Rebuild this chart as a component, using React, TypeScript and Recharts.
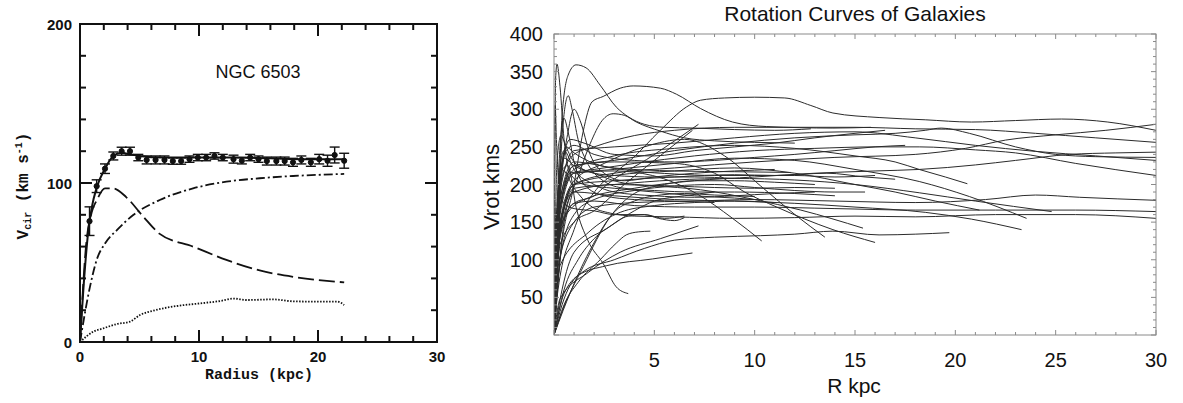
import React from "react";
import { LineChart, Line, XAxis, YAxis, ErrorBar } from "recharts";

type Pt = [number, number];

// ---------- left panel: NGC 6503 ----------
const obsRadius = [0.8, 1.4, 2.1, 2.8, 3.5, 4.2, 4.9, 5.6, 6.35, 7.1, 7.8, 8.5, 9.2, 9.9, 10.6, 11.3, 12.0, 12.9, 13.6, 14.3, 15.0, 15.7, 16.5, 17.2, 17.9, 18.6, 19.4, 20.1, 20.8, 21.4, 22.2];
const obsVel = [76, 98, 109, 117, 120, 120, 116, 114.5, 114.5, 114.5, 113.8, 113.8, 115, 116, 116, 117, 116, 115, 114, 116, 115, 113.8, 113.8, 113.8, 113, 114.5, 113, 115, 114, 117.6, 114];
const obsErr = [9, 4, 3, 2.5, 2.5, 2.5, 2, 2.5, 2.5, 2.5, 2, 2, 2, 2, 2, 2, 2, 2.5, 2, 2, 2, 2.5, 2.5, 2.5, 2.5, 2.5, 2.5, 3, 3.5, 5, 4.7];

const fitCurve: Pt[] = [[0, 0], [0.4, 45], [0.7, 70], [1.0, 85], [1.4, 97], [2.1, 109], [2.8, 117], [3.5, 119], [4.2, 118], [5, 117], [7, 116], [10, 116], [13, 116], [16, 115.5], [19, 115], [22.2, 115]];
const diskCurve: Pt[] = [[0, 0], [0.5, 60], [1, 82], [1.4, 89], [2.1, 96.6], [2.8, 96.6], [3.9, 91], [5.3, 79], [6.7, 68], [9.5, 60], [12.3, 51.6], [15.1, 45], [17.9, 41], [22.2, 37.5]];
const haloCurve: Pt[] = [[0, 0], [0.84, 34.8], [1.4, 51.6], [2.1, 62], [3.1, 70.4], [4.5, 80], [6.7, 89.3], [9.5, 96.6], [12.3, 100.8], [15.1, 103], [17.9, 104.4], [22.2, 105.7]];
const gasCurve: Pt[] = [[0, 0], [1.12, 6.5], [1.96, 8.6], [3.08, 11.3], [4.2, 12.8], [5.04, 17], [6.16, 19.7], [8.1, 22.6], [10.1, 24.3], [11.8, 25.8], [12.9, 27.3], [14, 26.4], [16.2, 26.8], [17.9, 25.6], [19.6, 25.4], [21.6, 25.4], [22.2, 23.3]];

const leftXTicks = [0, 2, 4, 6, 8, 10, 12, 14, 16, 18, 20, 22, 24, 26, 28, 30];
const leftYTicks = [0, 20, 40, 60, 80, 100, 120, 140, 160, 180, 200];
const leftXLabels = [0, 10, 20, 30];
const leftYLabels = [0, 100, 200];

// ---------- right panel: rotation curves ----------
const rc01: Pt[] = [[0, 0], [0.2, 60], [1, 140], [2.1, 193], [3, 215], [3.8, 232], [5.3, 272], [6.6, 303], [7.3, 312], [8.5, 315], [10, 316], [11.5, 315], [12.8, 305], [13.9, 295], [16.2, 289], [18.5, 286], [20.8, 283], [23, 285], [25.3, 287], [27.6, 283], [30, 272]];
const rc02: Pt[] = [[0, 0], [0.3, 140], [1, 200], [3, 215], [6, 222], [10, 230], [14, 236], [18, 240], [20.5, 248], [22.5, 259], [25, 266], [27.5, 272], [30, 280]];
const rc03: Pt[] = [[0, 0], [0.3, 200], [1, 240], [2, 250], [4, 265], [6, 272], [9, 276], [12, 276], [15, 276], [18, 274], [21, 273], [24, 268], [27, 262], [30, 256]];
const rc04: Pt[] = [[0, 0], [0.4, 150], [1.5, 180], [4, 195], [7, 205], [10, 210], [13, 215], [16, 218], [18.2, 220], [21, 226], [23, 232], [25.7, 240], [28, 242], [30, 243]];
const rc05: Pt[] = [[0, 0], [0.3, 180], [1, 225], [3, 232], [6, 245], [9, 255], [12, 262], [15, 266], [17, 268], [18.5, 272], [19.3, 275], [20.7, 268], [23, 250], [25, 240], [27, 237], [30, 236]];
const rc06: Pt[] = [[0, 0], [0.3, 190], [1, 245], [3, 250], [6, 255], [9, 262], [12, 268], [15, 270], [18, 262], [21, 252], [24, 244], [27, 238], [30, 232]];
const rc07: Pt[] = [[0, 0], [0.2, 140], [0.8, 215], [2, 220], [4, 228], [7, 238], [10, 245], [13, 248], [16, 250], [18.2, 250], [21, 246], [23, 242], [26, 228], [30, 212]];
const rc08: Pt[] = [[0, 0], [0.2, 90], [1, 150], [2, 170], [4, 176], [7, 178], [10, 180], [14, 178], [18, 176], [21.5, 180], [24, 186], [26.2, 183], [30, 179]];
const rc09: Pt[] = [[0, 0], [0.3, 130], [1, 175], [2, 178], [4, 172], [7, 170], [10, 170], [14, 168], [18, 166], [22, 166], [26, 166], [30, 164]];
const rc10: Pt[] = [[0, 0], [0.1, 150], [0.4, 220], [1, 195], [1.8, 172], [2.8, 162], [4, 158], [6, 157], [9, 155], [12, 156], [15, 158], [18, 157], [22, 160], [26, 160], [30, 155]];
const rc11: Pt[] = [[0, 0], [0.3, 170], [1, 220], [3, 238], [6, 248], [9, 252], [12, 248], [15, 238], [17, 230], [18.2, 220], [19.5, 210], [20.6, 201]];
const rc12: Pt[] = [[0, 0], [0.3, 150], [1, 190], [3, 185], [6, 180], [9, 178], [12, 175], [15, 170], [18.5, 163], [20.8, 154], [23.3, 140]];
const rc13: Pt[] = [[0, 0], [0.3, 160], [1, 215], [3, 220], [6, 228], [9, 235], [12, 232], [15, 220], [18.2, 204], [20.7, 184], [23.55, 155]];
const rc14: Pt[] = [[0, 0], [0.3, 140], [1, 195], [3, 200], [6, 206], [9, 208], [12, 206], [15, 200], [18.2, 189], [21, 178], [24.8, 164]];
const rc15: Pt[] = [[0, 0], [0.2, 130], [1, 200], [3, 212], [6, 218], [9, 222], [12, 215], [15, 200], [17, 190], [19, 178], [21.2, 166]];
const rc16: Pt[] = [[0, 0], [0.5, 55], [1.5, 85], [3, 100], [4.5, 115], [6, 126], [8, 130], [10.3, 132], [12, 134], [13.9, 138], [16.2, 133], [18, 134], [19.7, 136]];
const rc17: Pt[] = [[0, 0], [0.3, 130], [1, 190], [3, 200], [5, 198], [7.3, 193], [10, 180], [12.3, 166], [15.4, 142]];
const rc18: Pt[] = [[0, 0], [0.3, 170], [1, 225], [3, 230], [6, 228], [8, 215], [9.5, 190], [11.1, 170], [13.9, 140], [16, 123]];
const rc19: Pt[] = [[0, 0], [0.3, 150], [1, 205], [2.5, 228], [4.5, 250], [6.5, 260], [8.5, 238], [10.3, 198], [12.1, 158], [13.5, 130]];
const rc20: Pt[] = [[0, 0], [0.3, 170], [1, 215], [3, 218], [4.9, 212], [7.1, 188], [8.9, 155], [10.35, 125]];
const rc21: Pt[] = [[0, 0], [0.3, 140], [1, 200], [3, 205], [6, 210], [9, 213], [11, 212], [13.6, 215], [15.5, 210], [17, 207]];
const rc22: Pt[] = [[0, 0], [0.3, 180], [1, 230], [3, 222], [6, 218], [9, 217], [11.8, 216]];
const rc23: Pt[] = [[0, 0], [0.3, 140], [1, 175], [2, 185], [2.6, 199], [4.9, 238], [7.2, 280]];
const rc24: Pt[] = [[0, 0], [0.3, 120], [1, 150], [2, 165], [3.5, 200], [5, 232], [6.9, 272]];
const rc25: Pt[] = [[0, 0], [0.15, 150], [0.4, 220], [0.7, 225], [1.1, 170], [1.7, 125], [2.45, 95], [3.1, 64], [3.7, 55]];
const rc26: Pt[] = [[0, 0], [0.5, 40], [1.2, 70], [2.3, 100], [3.1, 122], [3.6, 133], [4.2, 137], [4.8, 138]];
const rc27: Pt[] = [[0, 0], [0.4, 40], [1.2, 79], [2.6, 92], [4.9, 101], [6.9, 109]];
const rc28: Pt[] = [[0, 0], [0.3, 48], [1.7, 83], [3.3, 110], [5.3, 128], [7.2, 145]];
const rc29: Pt[] = [[0, 0], [0.08, 340], [0.15, 360], [0.3, 330], [0.5, 260], [0.8, 215], [1.5, 200], [3, 195], [5, 190], [7, 185], [9, 182], [10, 180]];
const rc30: Pt[] = [[0, 0], [0.2, 150], [0.4, 290], [0.7, 345], [1.1, 359], [1.6, 355], [2.3, 332], [3.1, 303], [3.7, 290], [4.5, 280], [5.5, 276], [7, 275], [9, 273], [11, 272], [12.8, 274]];
const rc31: Pt[] = [[0, 0], [0.3, 100], [1, 200], [1.45, 270], [1.9, 310], [2.45, 317], [3.3, 328], [3.95, 331], [5.3, 328], [6.1, 320], [7.3, 301], [8.9, 283], [10.6, 277], [13.9, 275], [15.8, 276]];
const rc32: Pt[] = [[0, 0], [0.2, 150], [0.45, 280], [0.71, 318], [0.9, 300], [1.2, 260], [1.6, 232], [2.45, 205], [3.5, 195], [5, 192], [7, 190], [9, 190], [12, 188], [14, 185]];
const rc33: Pt[] = [[0, 0], [0.3, 180], [0.7, 270], [1, 300], [1.3, 285], [1.8, 240], [2.5, 215], [3.5, 205], [5, 210], [7, 215], [9, 218], [11, 220]];
const rc34: Pt[] = [[0, 0], [0.5, 150], [1.2, 210], [1.8, 254], [2.4, 285], [2.95, 294], [3.5, 292], [4.1, 283], [5.3, 271], [6.5, 262], [8, 258], [10, 256], [12, 255]];
const rc35: Pt[] = [[0, 0], [0.1, 120], [0.3, 250], [0.5, 288], [0.7, 270], [1, 230], [1.5, 200], [2.5, 185], [4, 180], [6, 178], [8, 176]];
const rc36: Pt[] = [[0, 0], [0.03, 200], [0.06, 305], [0.12, 260], [0.25, 200], [0.5, 175], [1, 168], [2, 165], [3, 160], [4.5, 160], [5.5, 155], [6.5, 158]];
const rc37: Pt[] = [[0, 0], [0.3, 200], [0.6, 250], [1, 242], [2, 228], [4, 218], [6, 214], [8, 212], [10, 212], [12, 212], [14, 210], [16, 212]];
const rc38: Pt[] = [[0, 0], [0.2, 160], [0.5, 240], [1, 252], [2, 240], [4, 232], [6, 230], [8, 232], [10, 236], [12, 240], [14, 245], [16, 250], [17.5, 252]];
const rc39: Pt[] = [[0, 0], [0.3, 100], [1, 160], [2, 180], [4, 192], [6, 198], [8, 200], [10, 196], [12, 192], [14, 190], [15.5, 190]];
const rc40: Pt[] = [[0, 0], [0.3, 200], [0.8, 260], [1.5, 255], [3, 240], [5, 238], [7, 245], [9, 250], [11, 255], [13, 262], [15, 268], [16.5, 272]];
const rc41: Pt[] = [[0, 0], [0.3, 24], [1.46, 91], [2.8, 157], [4, 188], [5.5, 200], [7, 205], [9, 205], [11, 203], [13, 200]];
const rc42: Pt[] = [[0, 0], [0.46, 33], [1.8, 113], [3.1, 166], [4, 178], [5, 185], [6.5, 188], [8, 186], [10, 184]];
const rc43: Pt[] = [[0, 0], [0.4, 60], [1, 110], [2.6, 141], [3.7, 158], [4.5, 160], [5.2, 155], [6, 152], [6.5, 156]];
const rc44: Pt[] = [[0, 0], [0.3, 92], [1.7, 136], [3.3, 163], [5, 172], [7, 176], [9, 178], [11, 176]];
const rc45: Pt[] = [[0, 0], [0.2, 180], [0.5, 235], [1, 225], [2, 215], [3, 205], [4, 200], [6, 198], [8, 196], [10, 195], [12, 196], [14, 195]];
const rc46: Pt[] = [[0, 0], [0.15, 230], [0.35, 265], [0.6, 250], [1, 230], [2, 215], [3, 212], [5, 210], [7, 210], [9, 208]];
const rc47: Pt[] = [[0, 0], [0.5, 60], [1.2, 100], [2, 128], [3, 148], [4, 165], [5, 178], [6.5, 185], [8, 190]];
const rc48: Pt[] = [[0, 0], [0.25, 210], [0.5, 245], [1, 220], [2, 200], [3, 190], [5, 185], [7, 183], [9, 185], [11, 188], [13, 190]];

const galaxyCurves: Pt[][] = [
  rc01, rc02, rc03, rc04, rc05, rc06, rc07, rc08, rc09, rc10, rc11, rc12, rc13, rc14, rc15, rc16,
  rc17, rc18, rc19, rc20, rc21, rc22, rc23, rc24, rc25, rc26, rc27, rc28, rc29, rc30, rc31, rc32,
  rc33, rc34, rc35, rc36, rc37, rc38, rc39, rc40, rc41, rc42, rc43, rc44, rc45, rc46, rc47, rc48,
];

const rightXTicks = Array.from({ length: 31 }, (_, i) => i);
const rightYTicks = Array.from({ length: 41 }, (_, i) => i * 10);
const rightXLabels = [5, 10, 15, 20, 25, 30];
const rightYLabels = [50, 100, 150, 200, 250, 300, 350, 400];

const toRows = (pts: Pt[]) => pts.map(([r, v]) => ({ r, v }));

// plot boxes (page pixels) that follow from the chart margins below
const leftBox = { x0: 80, x1: 437, y0: 24, y1: 342 };
const rightBox = { x0: 554, x1: 1156, y0: 34, y1: 335 };

type LabelOpts = {
  side: "bottom" | "left";
  labels: number[];
  offset: number;
  fontFamily: string;
  fontSize: number;
  fontWeight: number;
};

// axis tick labels only; tick marks are drawn inward by the Frame below
const makeLabel = (o: LabelOpts) => (props: any) => {
  const { x, y, payload } = props;
  const val = payload.value;
  if (!o.labels.includes(val)) return <g />;
  const font = { fontFamily: o.fontFamily, fontSize: o.fontSize, fontWeight: o.fontWeight, fill: "#111" };
  if (o.side === "bottom")
    return (
      <text x={x} y={y + o.offset} textAnchor="middle" {...font}>
        {val}
      </text>
    );
  return (
    <text x={x - o.offset} y={y} textAnchor="end" dominantBaseline="central" {...font}>
      {val}
    </text>
  );
};

const leftFont = { fontFamily: "'Liberation Sans', Arial, sans-serif", fontSize: 15, fontWeight: 700 };
const rightFont = { fontFamily: "'Liberation Sans', Arial, sans-serif", fontSize: 20, fontWeight: 400 };
const leftXLabel = makeLabel({ side: "bottom", labels: leftXLabels, offset: 20, ...leftFont });
const leftYLabel = makeLabel({ side: "left", labels: leftYLabels, offset: 8, ...leftFont });
const rightXLabel = makeLabel({ side: "bottom", labels: rightXLabels, offset: 32, ...rightFont });
const rightYLabel = makeLabel({ side: "left", labels: rightYLabels, offset: 11, ...rightFont });

type FrameProps = {
  box: { x0: number; x1: number; y0: number; y1: number };
  xMax: number;
  yMax: number;
  xTicks: number[];
  yTicks: number[];
  xMajor: number;
  yMajor: number;
  majorLen: number;
  minorLen: number;
  stroke: string;
  strokeWidth: number;
};

const Frame = ({ box, xMax, yMax, xTicks, yTicks, xMajor, yMajor, majorLen, minorLen, stroke, strokeWidth }: FrameProps) => {
  const sx = (v: number) => box.x0 + (v / xMax) * (box.x1 - box.x0);
  const sy = (v: number) => box.y1 - (v / yMax) * (box.y1 - box.y0);
  const len = (v: number, m: number) => (v % m === 0 ? majorLen : minorLen);
  return (
    <g stroke={stroke} strokeWidth={strokeWidth} fill="none">
      <rect x={box.x0} y={box.y0} width={box.x1 - box.x0} height={box.y1 - box.y0} />
      {xTicks.map((t) => (
        <g key={"x" + t}>
          <line x1={sx(t)} x2={sx(t)} y1={box.y1} y2={box.y1 - len(t, xMajor)} />
          <line x1={sx(t)} x2={sx(t)} y1={box.y0} y2={box.y0 + len(t, xMajor)} />
        </g>
      ))}
      {yTicks.map((t) => (
        <g key={"y" + t}>
          <line x1={box.x0} x2={box.x0 + len(t, yMajor)} y1={sy(t)} y2={sy(t)} />
          <line x1={box.x1} x2={box.x1 - len(t, yMajor)} y1={sy(t)} y2={sy(t)} />
        </g>
      ))}
    </g>
  );
};

const leftInk = "#111";
const rightInk = "#8a8a8a";
const obsRows = obsRadius.map((r, i) => ({ r, v: obsVel[i], e: obsErr[i] }));

const NGCPanel = () => (
  <LineChart width={470} height={403} margin={{ top: 24, right: 33, bottom: 31, left: 20 }}>
    <XAxis type="number" dataKey="r" domain={[0, 30]} ticks={leftXTicks} interval={0} height={30} tickSize={0} tickMargin={0} tickLine={false} axisLine={false} tick={leftXLabel} allowDataOverflow />
    <YAxis type="number" domain={[0, 200]} ticks={leftYTicks} interval={0} width={60} tickSize={0} tickMargin={0} tickLine={false} axisLine={false} tick={leftYLabel} allowDataOverflow />
    <Line data={toRows(gasCurve)} dataKey="v" type="monotone" stroke={leftInk} strokeWidth={1.8} strokeDasharray="1.5 1.5" dot={false} activeDot={false} isAnimationActive={false} />
    <Line data={toRows(haloCurve)} dataKey="v" type="monotone" stroke={leftInk} strokeWidth={1.8} strokeDasharray="9 3 2 3" dot={false} activeDot={false} isAnimationActive={false} />
    <Line data={toRows(diskCurve)} dataKey="v" type="monotone" stroke={leftInk} strokeWidth={1.8} strokeDasharray="16 5" dot={false} activeDot={false} isAnimationActive={false} />
    <Line data={toRows(fitCurve)} dataKey="v" type="monotone" stroke={leftInk} strokeWidth={2} dot={false} activeDot={false} isAnimationActive={false} />
    <Line data={obsRows} dataKey="v" stroke="none" dot={{ r: 2.6, fill: leftInk, stroke: leftInk }} activeDot={false} isAnimationActive={false}>
      <ErrorBar dataKey="e" direction="y" width={5} stroke={leftInk} strokeWidth={1.4} />
    </Line>
  </LineChart>
);

const CurvesPanel = () => (
  <LineChart width={713} height={403} margin={{ top: 34, right: 27, bottom: 38, left: 14 }}>
    <XAxis type="number" dataKey="r" domain={[0, 30]} ticks={rightXTicks} interval={0} height={30} tickSize={0} tickMargin={0} tickLine={false} axisLine={false} tick={rightXLabel} allowDataOverflow />
    <YAxis type="number" domain={[0, 400]} ticks={rightYTicks} interval={0} width={70} tickSize={0} tickMargin={0} tickLine={false} axisLine={false} tick={rightYLabel} allowDataOverflow />
    {galaxyCurves.map((c, i) => (
      <Line key={i} data={toRows(c)} dataKey="v" type="monotone" stroke="#2b2b2b" strokeWidth={1} dot={false} activeDot={false} isAnimationActive={false} />
    ))}
  </LineChart>
);

export default function App() {
  return (
    <div style={{ position: "absolute", left: 0, top: 0, width: 1183, height: 403, background: "#fff" }}>
      <div style={{ position: "absolute", left: 0, top: 0 }}>
        <NGCPanel />
      </div>
      <div style={{ position: "absolute", left: 470, top: 0 }}>
        <CurvesPanel />
      </div>
      <svg width={1183} height={403} style={{ position: "absolute", left: 0, top: 0, pointerEvents: "none" }}>
        <Frame box={leftBox} xMax={30} yMax={200} xTicks={leftXTicks} yTicks={leftYTicks} xMajor={10} yMajor={100} majorLen={12} minorLen={6} stroke={leftInk} strokeWidth={2} />
        <Frame box={rightBox} xMax={30} yMax={400} xTicks={rightXTicks} yTicks={rightYTicks} xMajor={5} yMajor={50} majorLen={5} minorLen={3} stroke={rightInk} strokeWidth={1} />
        <text x={258} y={78} textAnchor="middle" fontFamily="'Liberation Sans', Arial, sans-serif" fontSize={18} fill="#111">
          NGC 6503
        </text>
        <text x={259} y={379} textAnchor="middle" fontFamily="'Liberation Mono', monospace" fontWeight={700} fontSize={15} fill="#111">
          Radius (kpc)
        </text>
        <text transform="translate(28,186) rotate(-90)" textAnchor="middle" fontFamily="'Liberation Mono', monospace" fontWeight={700} fontSize={16} fill="#111">
          V<tspan fontSize={10} dy={3}>cir</tspan>
          <tspan dy={-3}> (km s</tspan>
          <tspan fontSize={10} dy={-6}>-1</tspan>
          <tspan dy={6}>)</tspan>
        </text>
        <text x={855} y={21} textAnchor="middle" fontFamily="'Liberation Sans', Arial, sans-serif" fontSize={21} fill="#111">
          Rotation Curves of Galaxies
        </text>
        <text x={854} y={393} textAnchor="middle" fontFamily="'Liberation Sans', Arial, sans-serif" fontSize={21} fill="#111">
          R kpc
        </text>
        <text transform="translate(499,187) rotate(-90)" textAnchor="middle" fontFamily="'Liberation Sans', Arial, sans-serif" fontSize={22} fill="#111">
          Vrot kms
        </text>
      </svg>
    </div>
  );
}
